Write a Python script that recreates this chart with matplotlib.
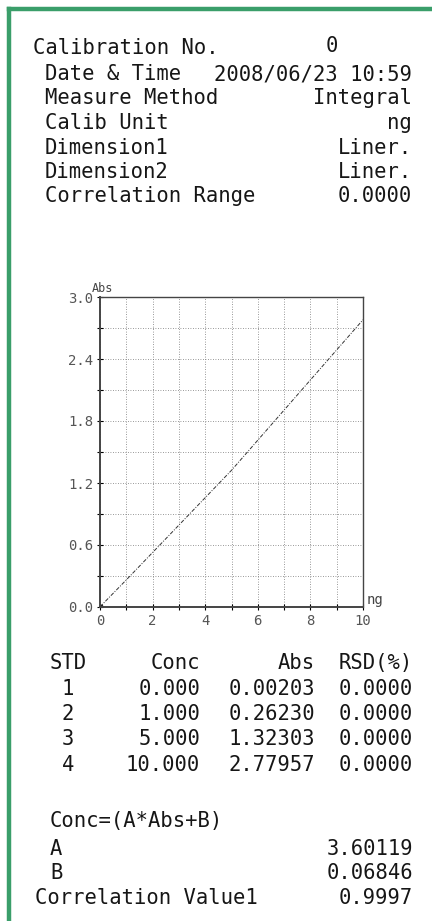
import numpy as np
import matplotlib
matplotlib.use("Agg")
import matplotlib.pyplot as plt

# header block
header_labels = ["Date & Time", "Measure Method", "Calib Unit",
                 "Dimension1", "Dimension2", "Correlation Range"]
header_values = ["2008/06/23 10:59", "Integral", "ng",
                 "Liner.", "Liner.", "0.0000"]
calib_no = "0"

# standards table
std_no = [1, 2, 3, 4]
conc = [0.000, 1.000, 5.000, 10.000]
absorb = [0.00203, 0.26230, 1.32303, 2.77957]
rsd = [0.0000, 0.0000, 0.0000, 0.0000]

coef_a = 3.60119
coef_b = 0.06846
corr_value = 0.9997

x_ticks = [0, 2, 4, 6, 8, 10]
y_ticks = [0.0, 0.6, 1.2, 1.8, 2.4, 3.0]

W, H = 432, 921
GREEN = "#3a9e6a"
FONT = "DejaVu Sans Mono"
FS = 14.8

fig = plt.figure(figsize=(W / 100, H / 100), dpi=100)


def px(x, y):
    return x / W, 1 - y / H


def txt(x, y, s, ha="left", **kw):
    fig.text(*px(x, y), s, ha=ha, va="center", family=FONT,
             fontsize=kw.pop("fontsize", FS), color="#161616", **kw)


# green frame (top and left edge)
fig.add_artist(plt.Line2D([9 / W, 1], [1 - 9 / H, 1 - 9 / H],
                          transform=fig.transFigure, color=GREEN, lw=3.2))
fig.add_artist(plt.Line2D([9 / W, 9 / W], [0, 1 - 9 / H],
                          transform=fig.transFigure, color=GREEN, lw=3.2))

# header text
txt(33, 48, "Calibration No.")
txt(332, 46, calib_no, ha="center")
for i, (lab, val) in enumerate(zip(header_labels, header_values)):
    y = 74 + i * 24.5
    txt(45, y, lab)
    txt(412, y, val, ha="right")

# calibration plot
ax = fig.add_axes([100 / W, 1 - 607 / H, 263 / W, 310 / H])
ax.plot(conc, absorb, color="#333", lw=0.7, ls=(0, (4, 1.5, 1, 1.5)))
ax.plot(conc[:1], absorb[:1], "s", color="#222", ms=3)
ax.set_xlim(0, 10)
ax.set_ylim(0, 3.0)
ax.set_xticks(x_ticks)
ax.set_xticks(np.arange(0, 11, 1), minor=True)
ax.set_yticks(y_ticks)
ax.set_yticks(np.arange(0, 3.01, 0.3), minor=True)
ax.set_xticklabels([str(t) for t in x_ticks])
ax.set_yticklabels([f"{t:.1f}" for t in y_ticks])
ax.grid(True, which="both", color="#777", lw=0.6, ls=(0, (1, 2)))
ax.tick_params(which="both", direction="inout", length=4, width=0.8,
               labelsize=10, labelcolor="#555", pad=3)
for lab in ax.get_xticklabels() + ax.get_yticklabels():
    lab.set_family(FONT)
for sp in ax.spines.values():
    sp.set_color("#444")
    sp.set_linewidth(1.0)
ax.spines["left"].set_linewidth(1.4)
ax.spines["bottom"].set_linewidth(1.4)
ax.text(-0.03, 1.005, "Abs", transform=ax.transAxes, ha="left", va="bottom",
        family=FONT, fontsize=8.5, color="#444")
ax.text(1.015, 0.0, "ng", transform=ax.transAxes, ha="left", va="bottom",
        family=FONT, fontsize=10, color="#444")

# standards table
txt(50, 663, "STD")
txt(200, 663, "Conc", ha="right")
txt(315, 663, "Abs", ha="right")
txt(413, 663, "RSD(%)", ha="right")
for i in range(len(std_no)):
    y = 689 + i * 25.2
    txt(68, y, str(std_no[i]), ha="center")
    txt(200, y, f"{conc[i]:.3f}", ha="right")
    txt(315, y, f"{absorb[i]:.5f}", ha="right")
    txt(413, y, f"{rsd[i]:.4f}", ha="right")

txt(50, 821, "Conc=(A*Abs+B)")
txt(50, 849, "A")
txt(413, 849, f"{coef_a:.5f}", ha="right")
txt(50, 873, "B")
txt(413, 873, f"{coef_b:.5f}", ha="right")
txt(35, 898, "Correlation Value1")
txt(413, 898, f"{corr_value:.4f}", ha="right")

fig.savefig("out.png", dpi=100)
